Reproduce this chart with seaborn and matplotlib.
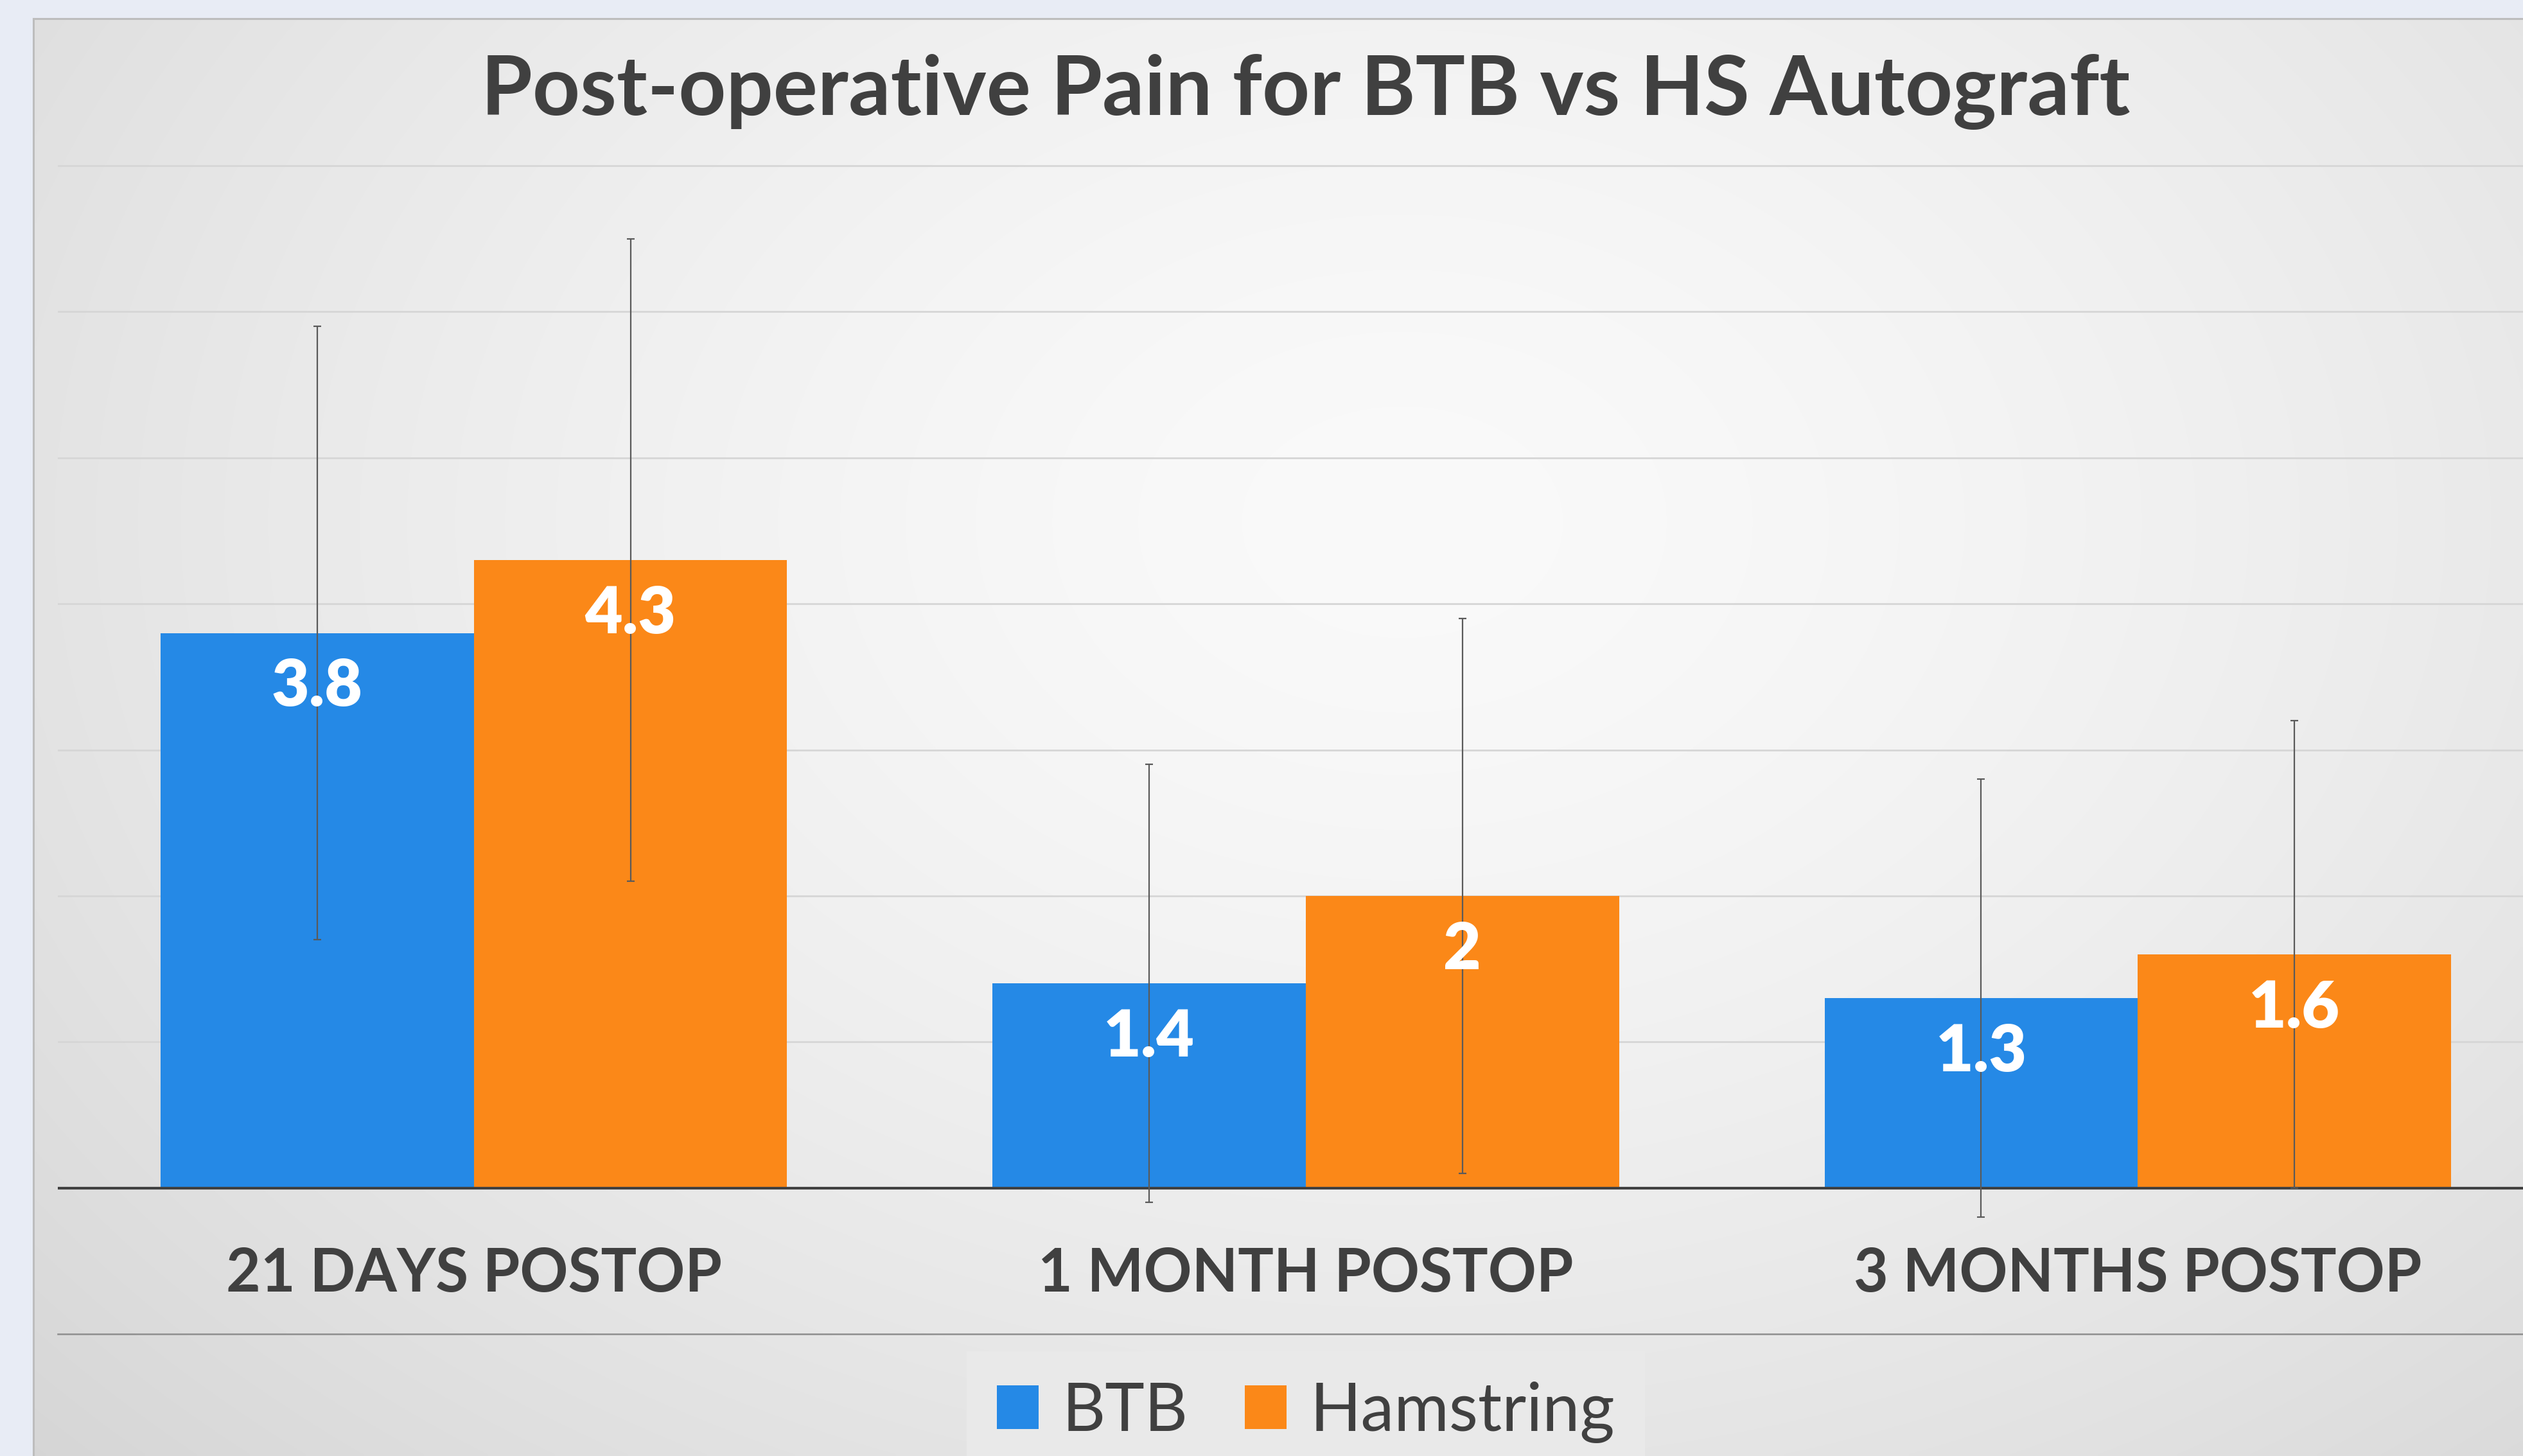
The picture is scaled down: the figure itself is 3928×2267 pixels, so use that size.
import numpy as np
import pandas as pd
import matplotlib
matplotlib.use("Agg")
import matplotlib.pyplot as plt
import seaborn as sns

sns.set_style("white")
plt.rcParams['font.family'] = ['Lato', 'DejaVu Sans']

########
# data #
########

categories = ["21 DAYS POSTOP", "1 MONTH POSTOP", "3 MONTHS POSTOP"]
groups = ["BTB", "Hamstring"]
btb_mean = [3.8, 1.4, 1.3]
hs_mean = [4.3, 2.0, 1.6]
btb_sd = [2.1, 1.5, 1.5]
hs_sd = [2.2, 1.9, 1.6]
palette = ["#2589E6", "#FB8818"]

df = pd.DataFrame({
    "time": categories * 2,
    "graft": [groups[0]] * 3 + [groups[1]] * 3,
    "pain": btb_mean + hs_mean,
})

W, H, DPI = 3928, 2267, 100
TXT = "#404040"

fig = plt.figure(figsize=(W / DPI, H / DPI), dpi=DPI)
fig.patch.set_facecolor("#E8ECF5")

# background panel with soft radial gradient
bg = fig.add_axes([52 / W, 0, 1 - 52 / W, 1 - 29 / H])
yy, xx = np.mgrid[0:1:400j, 0:1:700j]
r = np.sqrt(((xx - 0.55) / 0.6) ** 2 + ((yy - 0.35) / 0.75) ** 2)
shade = np.clip(0.98 - 0.1 * r ** 1.5, 0, 1)
bg.imshow(np.dstack([shade] * 3), extent=[0, 1, 0, 1], aspect="auto", interpolation="bilinear")
bg.set_xticks([])
bg.set_yticks([])
for s in ["right", "bottom"]:
    bg.spines[s].set_visible(False)
for s in ["left", "top"]:
    bg.spines[s].set_color("#BDBDBD")
    bg.spines[s].set_linewidth(2.2)

# main axes
ax = fig.add_axes([90 / W, 0.0838, (3976 - 90) / W, 0.8044])
ax.set_facecolor("none")

sns.barplot(data=df, x="time", y="pain", hue="graft", palette=palette,
            width=0.753, errorbar=None, saturation=1, linewidth=0, ax=ax)

ax.set_xlim(-0.5, 2.5)
ax.set_ylim(-1, 7.02)
ax.set_yticks(range(1, 8))
ax.set_yticklabels([])
ax.tick_params(axis="y", length=0)
ax.yaxis.grid(True, color="#D6D6D6", linewidth=2.0)
ax.set_axisbelow(True)
ax.axhline(0, color=TXT, linewidth=3.0, zorder=3)
for s in ["top", "left", "right"]:
    ax.spines[s].set_visible(False)
ax.spines["bottom"].set_color("#8E8E8E")
ax.spines["bottom"].set_linewidth(1.8)

ax.set_xlabel("")
ax.set_ylabel("")
ax.tick_params(axis="x", length=0, pad=-67, labelsize=67, labelcolor=TXT)
for lbl in ax.get_xticklabels():
    lbl.set_fontweight("bold")
    lbl.set_va("center")

# error bars and value labels
for cont, sds in zip(ax.containers, [btb_sd, hs_sd]):
    xs = [p.get_x() + p.get_width() / 2 for p in cont]
    ys = [p.get_height() for p in cont]
    ax.errorbar(xs, ys, yerr=sds, fmt="none", ecolor="#5A5A5A", elinewidth=1.6,
                capsize=4.5, capthick=1.6, zorder=4)
    for x, y in zip(xs, ys):
        ax.annotate(f"{y:g}", (x, y), xytext=(0, -61), textcoords="offset points",
                    ha="center", va="center", color="white", fontsize=73,
                    fontweight="heavy", zorder=5)

ax.text(0.5, 1.0605, "Post-operative Pain for BTB vs HS Autograft", transform=ax.transAxes,
        ha="center", va="center", fontsize=93, fontweight="bold", color=TXT)

sns.move_legend(ax, "upper center", bbox_to_anchor=(0.5, -0.0148), ncol=2, title=None,
                frameon=True, fontsize=75, handlelength=0.62, handleheight=0.62,
                handletextpad=0.35, columnspacing=0.85, borderpad=0.45, borderaxespad=0,
                labelcolor=TXT, facecolor="#E9E9E9", edgecolor="none", framealpha=1,
                fancybox=False)

fig.savefig("out.png", dpi=DPI)
